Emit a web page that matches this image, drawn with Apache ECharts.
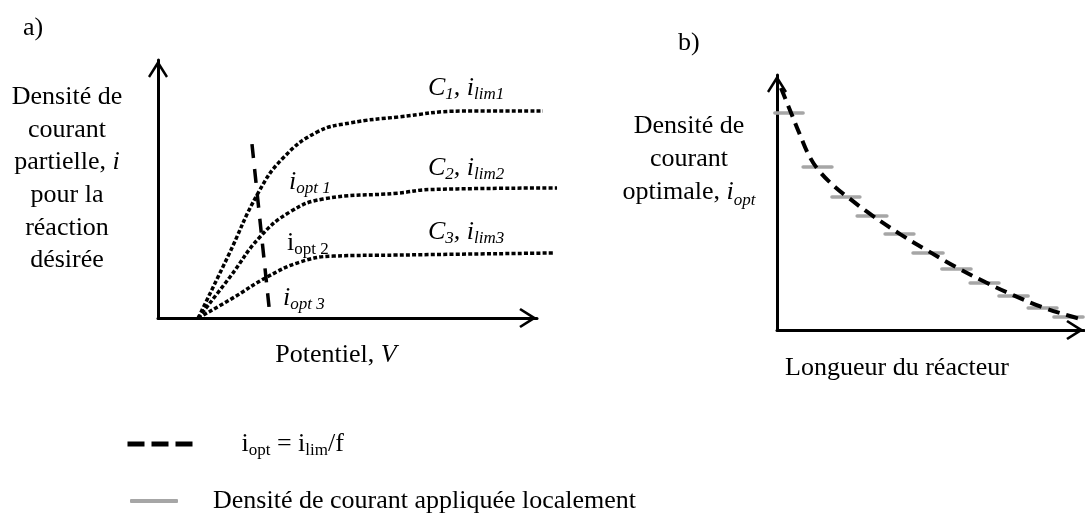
<!DOCTYPE html>
<html>
<head>
<meta charset="utf-8">
<script src="https://cdn.jsdelivr.net/npm/echarts@6/dist/echarts.min.js"></script>
<style>
  html, body { margin: 0; padding: 0; background: #fff; }
  #main { width: 1085px; height: 513px; }
</style>
</head>
<body>
<div id="main"></div>
<script>
// a) courbes i = f(V) : [potentiel, densité]
var courbeC1 = [[1.06, 0], [1.85, 2.40], [2.64, 4.84], [3.30, 6.20], [4.20, 7.21], [5.07, 7.56], [6.33, 7.79], [8.05, 8.02], [10.16, 8.02]];
var courbeC2 = [[1.06, 0], [1.90, 1.59], [2.69, 3.14], [3.48, 4.11], [4.35, 4.61], [6.33, 4.84], [7.18, 4.98], [10.53, 5.04]];
var courbeC3 = [[1.06, 0], [1.98, 0.78], [2.88, 1.59], [3.75, 2.17], [4.62, 2.40], [6.33, 2.44], [10.42, 2.52]];
var ligneOpt = [[2.48, 6.74], [2.93, 0.43]];

// b) densité optimale le long du réacteur
var longueur = [0.13, 0.42, 0.75, 1.07, 1.40, 1.89, 2.38, 3.03, 4.01, 4.92, 5.83, 6.78, 7.69, 8.63, 9.54, 10.0];
var iOpt = [9.49, 8.63, 7.65, 6.78, 6.20, 5.61, 5.14, 4.55, 3.76, 3.10, 2.47, 1.88, 1.37, 0.90, 0.55, 0.39];

// b) paliers de densité appliquée
var debutSeg = [-0.07, 0.85, 1.79, 2.61, 3.52, 4.43, 5.37, 6.29, 7.23, 8.18, 9.02];
var finSeg = [0.85, 1.79, 2.70, 3.58, 4.46, 5.41, 6.32, 7.23, 8.18, 9.12, 9.97];
var niveauSeg = [8.51, 6.39, 5.22, 4.47, 3.76, 3.02, 2.39, 1.84, 1.33, 0.86, 0.51];

var FONT = '"Liberation Serif", "Times New Roman", serif';
var ARROW = 'path://M10,0 L20,16 L18,17.5 L10,5 L2,17.5 L0,16 Z';

var courbeB = longueur.map(function (x, i) { return [x, iOpt[i]]; });
var paliers = debutSeg.map(function (x, i) { return [x, finSeg[i], niveauSeg[i]]; });

// axe visible avec fleche, ou axe cache (grille des courbes)
function axe(grid, max, visible) {
    return {
        type: 'value', gridIndex: grid, min: 0, max: max,
        axisLine: {
            show: visible, onZero: true,
            symbol: ['none', ARROW], symbolSize: [20, 18], symbolOffset: [0, -9],
            lineStyle: { color: '#000', width: 3 }
        },
        axisTick: { show: false }, axisLabel: { show: false }, splitLine: { show: false }
    };
}

var RICH = {
    n: { fontFamily: FONT, fontSize: 26, lineHeight: 30, color: '#000' },
    it: { fontFamily: FONT, fontSize: 26, fontStyle: 'italic', lineHeight: 30, color: '#000' },
    s: { fontFamily: FONT, fontSize: 17, lineHeight: 14, verticalAlign: 'bottom', color: '#000' },
    si: { fontFamily: FONT, fontSize: 17, fontStyle: 'italic', lineHeight: 14, verticalAlign: 'bottom', color: '#000' },
    g: { width: 44 },
    g2: { width: 30 }
};

function texte(x, y, t, align, vAlign, lh) {
    var rich = RICH;
    if (lh) {
        rich = {
            it: { fontFamily: FONT, fontSize: 26, fontStyle: 'italic', lineHeight: lh, color: '#000' },
            si: { fontFamily: FONT, fontSize: 17, fontStyle: 'italic', lineHeight: 14, verticalAlign: 'bottom', color: '#000' }
        };
    }
    return {
        type: 'text', x: x, y: y, z: 100,
        style: {
            text: t, fontFamily: FONT, fontSize: 26, fill: '#000',
            align: align, verticalAlign: vAlign, lineHeight: lh || 30, rich: rich
        }
    };
}

var option = {
    animation: false,
    backgroundColor: '#fff',
    grid: [
        { left: 158, top: 60, width: 401.7, height: 258 },  // courbes a) (depassent la fleche)
        { left: 158, top: 60, width: 379, height: 258 },    // axes a)
        { left: 777, top: 75, width: 307, height: 255 }     // b)
    ],
    xAxis: [axe(0, 10.6, false), axe(1, 10, true), axe(2, 10, true)],
    yAxis: [axe(0, 10, false), axe(1, 10, true), axe(2, 10, true)],
    legend: [
        {
            left: 125, top: 431, orient: 'vertical', selectedMode: false, padding: 0,
            itemWidth: 65, itemHeight: 14, itemGap: 0,
            data: ['iopt = ilim/f'],
            lineStyle: { type: [17, 7], width: 5, color: '#000', cap: 'butt' },
            itemStyle: { opacity: 0 },
            formatter: function () { return '{g| }{n|i}{s|opt}{n| = i}{s|lim}{n|/f}'; },
            textStyle: { fontFamily: FONT, fontSize: 26, color: '#000', rich: RICH }
        },
        {
            left: 130, top: 488, orient: 'vertical', selectedMode: false, padding: 0,
            itemWidth: 48, itemHeight: 4, icon: 'roundRect',
            data: ['Densité de courant appliquée localement'],
            formatter: function (name) { return '{g2| }{n|' + name + '}'; },
            textStyle: { fontFamily: FONT, fontSize: 26, color: '#000', rich: RICH }
        }
    ],
    series: [
        {
            name: 'C1', type: 'line', xAxisIndex: 0, yAxisIndex: 0, data: courbeC1,
            smooth: 0.45, symbol: 'none', clip: false,
            lineStyle: { color: '#000', width: 3.5, type: [4, 2.2] }
        },
        {
            name: 'C2', type: 'line', xAxisIndex: 0, yAxisIndex: 0, data: courbeC2,
            smooth: 0.45, symbol: 'none', clip: false,
            lineStyle: { color: '#000', width: 3.5, type: [4, 2.2] }
        },
        {
            name: 'C3', type: 'line', xAxisIndex: 0, yAxisIndex: 0, data: courbeC3,
            smooth: 0.45, symbol: 'none', clip: false,
            lineStyle: { color: '#000', width: 3.5, type: [4, 2.2] }
        },
        {
            name: 'iopt = ilim/f', type: 'line', xAxisIndex: 0, yAxisIndex: 0, data: ligneOpt,
            symbol: 'none', clip: false, z: 5,
            itemStyle: { color: '#000' },
            lineStyle: { color: '#000', width: 3.5, type: [14, 11] }
        },
        {
            name: 'Densité de courant appliquée localement', type: 'custom',
            xAxisIndex: 2, yAxisIndex: 2, data: paliers, clip: false, z: 3,
            encode: { x: [0, 1], y: 2 },
            itemStyle: { color: '#a6a6a6' },
            renderItem: function (params, api) {
                var p0 = api.coord([api.value(0), api.value(2)]);
                var p1 = api.coord([api.value(1), api.value(2)]);
                return {
                    type: 'line',
                    shape: { x1: p0[0], y1: p0[1], x2: p1[0], y2: p1[1] },
                    style: { stroke: '#a6a6a6', lineWidth: 3.5, lineCap: 'round' }
                };
            }
        },
        {
            name: 'iopt = ilim/f', type: 'line', xAxisIndex: 2, yAxisIndex: 2, data: courbeB,
            smooth: 0.4, symbol: 'none', clip: false, z: 5,
            itemStyle: { color: '#000' },
            lineStyle: { color: '#000', width: 4, type: [12, 7] }
        }
    ],
    graphic: [
        texte(23, 28, 'a)', 'left', 'middle'),
        texte(678, 43, 'b)', 'left', 'middle'),
        texte(67, 81, 'Densité de\ncourant\npartielle, {it|i}\npour la\nréaction\ndésirée', 'center', 'top', 32.6),
        texte(336, 355, 'Potentiel, {it|V}', 'center', 'middle'),
        texte(689, 110, 'Densité de\ncourant\noptimale, {it|i}{si|opt}', 'center', 'top', 33),
        texte(897, 368, 'Longueur du réacteur', 'center', 'middle'),
        texte(428, 88, '{it|C}{si|1}{it|, i}{si|lim1}', 'left', 'middle'),
        texte(428, 168, '{it|C}{si|2}{it|, i}{si|lim2}', 'left', 'middle'),
        texte(428, 232, '{it|C}{si|3}{it|, i}{si|lim3}', 'left', 'middle'),
        texte(289, 182, '{it|i}{si|opt 1}', 'left', 'middle'),
        texte(287, 243, '{n|i}{s|opt 2}', 'left', 'middle'),
        texte(283, 298, '{it|i}{si|opt 3}', 'left', 'middle')
    ]
};

var chart = echarts.init(document.getElementById('main'));
chart.setOption(option);
window.addEventListener('resize', function () { chart.resize(); });
</script>
</body>
</html>
